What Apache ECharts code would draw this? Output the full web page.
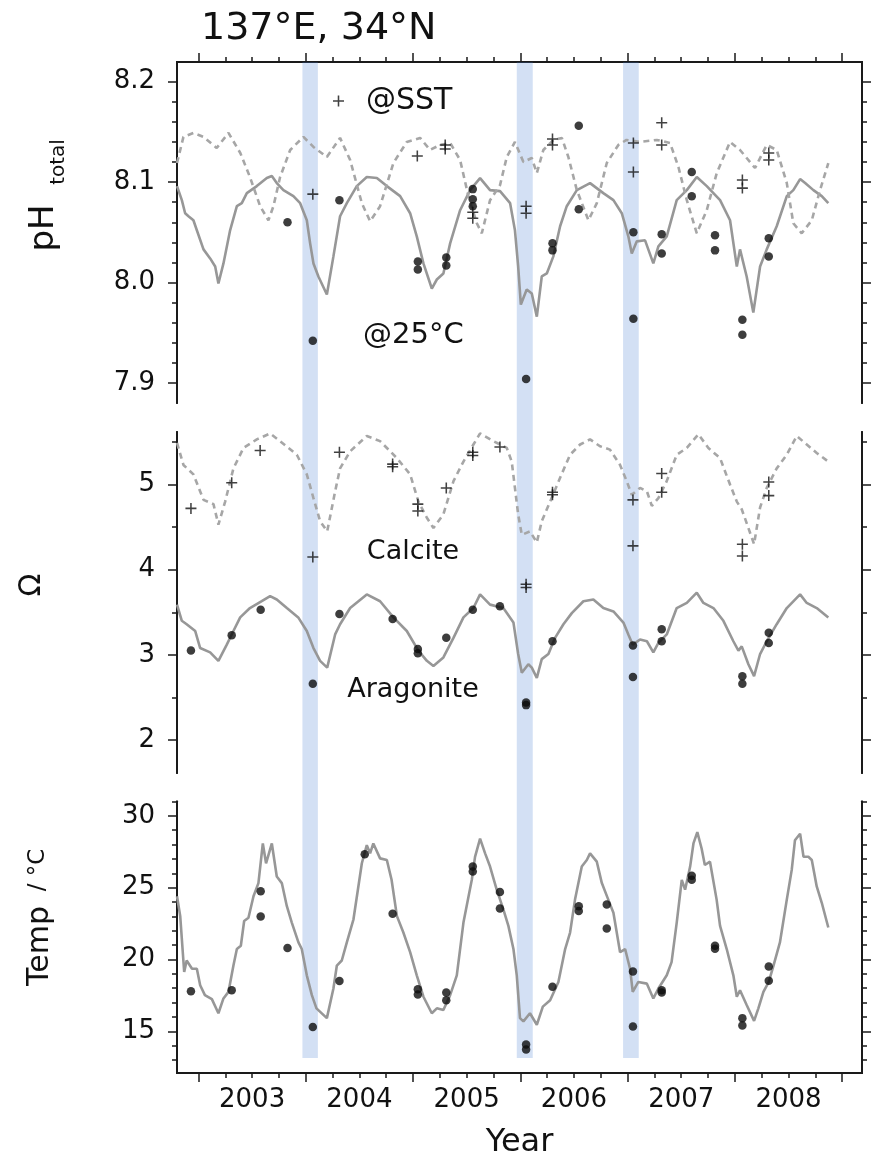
<!DOCTYPE html>
<html><head><meta charset="utf-8">
<script src="https://cdn.jsdelivr.net/npm/echarts@6/dist/echarts.min.js"></script>
<style>html,body{margin:0;padding:0;background:#fff}#c{width:872px;height:1160px}</style>
</head><body><div id="c"></div>
<script>
// ---------- data (years as decimal) ----------
const phSolid = [[2002.80,8.096],[2002.845,8.082],[2002.876,8.069],[2002.907,8.066],[2002.953,8.062],[2002.985,8.052],[2003.047,8.033],[2003.109,8.024],[2003.156,8.016],[2003.186,7.999],[2003.233,8.019],[2003.295,8.052],[2003.358,8.076],[2003.404,8.079],[2003.451,8.089],[2003.544,8.096],[2003.637,8.104],[2003.684,8.106],[2003.73,8.099],[2003.792,8.092],[2003.885,8.086],[2003.948,8.079],[2004.010,8.062],[2004.041,8.039],[2004.072,8.019],[2004.118,8.006],[2004.197,7.988],[2004.258,8.026],[2004.32,8.066],[2004.383,8.079],[2004.476,8.096],[2004.569,8.105],[2004.663,8.104],[2004.756,8.096],[2004.88,8.086],[2004.973,8.069],[2005.035,8.046],[2005.097,8.019],[2005.175,7.994],[2005.222,8.003],[2005.283,8.009],[2005.346,8.039],[2005.439,8.072],[2005.532,8.092],[2005.625,8.104],[2005.718,8.092],[2005.811,8.091],[2005.905,8.079],[2005.95,8.052],[2005.98,8.016],[2006.005,7.978],[2006.06,7.993],[2006.107,7.989],[2006.154,7.966],[2006.2,8.006],[2006.247,8.009],[2006.308,8.026],[2006.371,8.056],[2006.433,8.076],[2006.527,8.092],[2006.65,8.099],[2006.774,8.089],[2006.868,8.082],[2006.946,8.069],[2007.007,8.046],[2007.039,8.029],[2007.086,8.041],[2007.163,8.042],[2007.24,8.019],[2007.287,8.036],[2007.365,8.046],[2007.458,8.082],[2007.552,8.092],[2007.645,8.105],[2007.738,8.096],[2007.862,8.082],[2007.955,8.062],[2008.018,8.016],[2008.048,8.033],[2008.11,8.006],[2008.172,7.970],[2008.235,8.016],[2008.297,8.033],[2008.39,8.056],[2008.484,8.086],[2008.545,8.092],[2008.608,8.103],[2008.655,8.099],[2008.732,8.092],[2008.81,8.086],[2008.871,8.079]];
const phDashed = [[2002.80,8.119],[2002.86,8.145],[2002.953,8.149],[2003.047,8.145],[2003.17,8.134],[2003.28,8.149],[2003.39,8.129],[2003.48,8.105],[2003.575,8.076],[2003.652,8.062],[2003.699,8.076],[2003.761,8.105],[2003.855,8.132],[2003.979,8.145],[2004.072,8.135],[2004.197,8.125],[2004.32,8.144],[2004.414,8.122],[2004.523,8.079],[2004.6,8.061],[2004.693,8.076],[2004.817,8.119],[2004.942,8.140],[2005.066,8.144],[2005.159,8.132],[2005.252,8.137],[2005.346,8.139],[2005.439,8.122],[2005.516,8.086],[2005.595,8.059],[2005.641,8.049],[2005.718,8.082],[2005.811,8.097],[2005.874,8.125],[2005.95,8.140],[2006.029,8.120],[2006.107,8.124],[2006.154,8.109],[2006.215,8.132],[2006.308,8.142],[2006.387,8.144],[2006.448,8.125],[2006.527,8.092],[2006.635,8.062],[2006.713,8.079],[2006.806,8.119],[2006.914,8.137],[2006.99,8.142],[2007.116,8.140],[2007.272,8.142],[2007.396,8.139],[2007.474,8.115],[2007.552,8.082],[2007.645,8.049],[2007.738,8.072],[2007.831,8.109],[2007.955,8.140],[2008.048,8.132],[2008.188,8.114],[2008.297,8.137],[2008.39,8.132],[2008.484,8.099],[2008.545,8.059],[2008.623,8.049],[2008.717,8.062],[2008.794,8.092],[2008.871,8.119]];
const phPlus = [[2004.066,8.088],[2005.04,8.126],[2005.30,8.137],[2005.30,8.133],[2005.557,8.070],[2005.557,8.064],[2006.054,8.076],[2006.054,8.069],[2006.30,8.143],[2006.30,8.137],[2007.054,8.139],[2007.054,8.110],[2007.318,8.159],[2007.318,8.137],[2008.07,8.102],[2008.07,8.094],[2008.316,8.129],[2008.316,8.122]];
const phDots = [[2003.83,8.060],[2004.066,7.942],[2004.314,8.082],[2005.045,8.021],[2005.045,8.013],[2005.31,8.025],[2005.31,8.017],[2005.557,8.093],[2005.557,8.083],[2005.557,8.076],[2006.054,7.904],[2006.30,8.039],[2006.30,8.032],[2006.545,8.156],[2006.545,8.073],[2007.054,8.050],[2007.054,7.964],[2007.318,8.048],[2007.318,8.029],[2007.598,8.110],[2007.598,8.086],[2007.815,8.047],[2007.815,8.032],[2008.07,7.963],[2008.07,7.948],[2008.316,8.044],[2008.316,8.026]];

const omSolid = [[2002.80,3.59],[2002.845,3.40],[2002.89,3.36],[2002.97,3.28],[2003.016,3.08],[2003.109,3.03],[2003.186,2.93],[2003.264,3.12],[2003.326,3.28],[2003.389,3.44],[2003.48,3.55],[2003.59,3.63],[2003.668,3.69],[2003.73,3.65],[2003.824,3.55],[2003.93,3.44],[2004.01,3.28],[2004.072,3.08],[2004.134,2.93],[2004.20,2.85],[2004.274,3.24],[2004.32,3.36],[2004.414,3.55],[2004.569,3.71],[2004.693,3.63],[2004.817,3.44],[2004.942,3.28],[2005.05,3.05],[2005.129,2.93],[2005.19,2.87],[2005.283,2.97],[2005.377,3.20],[2005.47,3.44],[2005.563,3.55],[2005.625,3.71],[2005.718,3.59],[2005.842,3.55],[2005.936,3.38],[2005.98,3.01],[2006.014,2.79],[2006.075,2.89],[2006.107,2.85],[2006.154,2.73],[2006.2,2.95],[2006.262,3.01],[2006.324,3.20],[2006.402,3.36],[2006.48,3.49],[2006.588,3.63],[2006.681,3.65],[2006.774,3.55],[2006.868,3.51],[2006.961,3.38],[2007.007,3.24],[2007.048,3.12],[2007.116,3.18],[2007.18,3.16],[2007.24,3.03],[2007.287,3.14],[2007.365,3.24],[2007.458,3.55],[2007.552,3.61],[2007.645,3.73],[2007.707,3.61],[2007.80,3.55],[2007.893,3.40],[2007.986,3.16],[2008.033,3.05],[2008.064,3.10],[2008.126,2.89],[2008.179,2.75],[2008.235,3.01],[2008.297,3.16],[2008.39,3.36],[2008.484,3.55],[2008.608,3.71],[2008.67,3.61],[2008.763,3.55],[2008.871,3.44]];
const omDashed = [[2002.80,5.49],[2002.86,5.23],[2002.953,5.12],[2003.047,4.82],[2003.14,4.77],[2003.186,4.53],[2003.249,4.80],[2003.326,5.19],[2003.42,5.43],[2003.544,5.53],[2003.668,5.60],[2003.761,5.51],[2003.917,5.35],[2004.01,5.12],[2004.072,4.84],[2004.134,4.57],[2004.20,4.45],[2004.274,4.92],[2004.32,5.19],[2004.414,5.39],[2004.569,5.57],[2004.693,5.51],[2004.85,5.31],[2004.973,5.12],[2005.05,4.80],[2005.129,4.61],[2005.19,4.49],[2005.283,4.65],[2005.377,5.04],[2005.47,5.27],[2005.563,5.47],[2005.625,5.60],[2005.749,5.51],[2005.874,5.43],[2005.92,5.27],[2005.95,4.96],[2005.98,4.65],[2006.014,4.41],[2006.09,4.45],[2006.154,4.32],[2006.2,4.57],[2006.278,4.80],[2006.371,5.08],[2006.464,5.35],[2006.557,5.47],[2006.65,5.53],[2006.743,5.45],[2006.836,5.41],[2006.93,5.23],[2006.992,5.04],[2007.039,4.88],[2007.116,4.96],[2007.18,4.92],[2007.226,4.75],[2007.287,4.84],[2007.365,5.04],[2007.458,5.35],[2007.552,5.43],[2007.66,5.59],[2007.753,5.43],[2007.862,5.31],[2007.955,5.00],[2008.018,4.80],[2008.064,4.71],[2008.126,4.49],[2008.179,4.30],[2008.235,4.73],[2008.297,4.96],[2008.39,5.19],[2008.484,5.35],[2008.577,5.57],[2008.67,5.47],[2008.763,5.37],[2008.871,5.27]];
const omPlus = [[2002.93,4.72],[2003.31,5.02],[2003.575,5.40],[2004.066,4.15],[2004.314,5.38],[2004.81,5.24],[2004.81,5.21],[2005.045,4.77],[2005.045,4.69],[2005.31,4.96],[2005.557,5.38],[2005.557,5.34],[2005.81,5.44],[2006.054,3.83],[2006.054,3.79],[2006.30,4.91],[2006.30,4.88],[2007.05,4.82],[2007.05,4.28],[2007.318,5.13],[2007.318,4.91],[2008.07,4.30],[2008.07,4.16],[2008.316,5.03],[2008.316,4.87]];
const omDots = [[2002.93,3.05],[2003.31,3.23],[2003.58,3.53],[2004.066,2.66],[2004.314,3.48],[2004.81,3.42],[2005.045,3.07],[2005.045,3.02],[2005.31,3.20],[2005.557,3.53],[2005.81,3.57],[2006.054,2.44],[2006.054,2.41],[2006.30,3.16],[2007.05,3.11],[2007.05,2.74],[2007.318,3.30],[2007.318,3.16],[2008.07,2.75],[2008.07,2.66],[2008.316,3.26],[2008.316,3.14]];

const tLine = [[2002.80,24.40],[2002.83,23.02],[2002.867,19.13],[2002.89,19.93],[2002.94,19.36],[2002.985,19.36],[2003.016,18.21],[2003.06,17.52],[2003.125,17.24],[2003.186,16.26],[2003.233,17.29],[2003.28,17.75],[2003.326,19.58],[2003.358,20.73],[2003.395,20.96],[2003.426,22.68],[2003.466,22.91],[2003.513,24.40],[2003.559,25.32],[2003.60,28.08],[2003.63,26.70],[2003.684,28.08],[2003.73,25.78],[2003.777,25.32],[2003.824,23.71],[2003.87,22.57],[2003.932,21.19],[2003.963,20.73],[2004.01,18.90],[2004.057,17.52],[2004.10,16.60],[2004.197,15.92],[2004.258,17.98],[2004.29,19.58],[2004.336,19.93],[2004.383,21.19],[2004.445,22.80],[2004.523,26.70],[2004.569,27.96],[2004.60,27.39],[2004.63,28.08],[2004.693,27.04],[2004.756,26.93],[2004.80,25.55],[2004.85,23.02],[2004.91,21.88],[2004.973,20.51],[2005.035,18.90],[2005.097,17.41],[2005.175,16.26],[2005.222,16.60],[2005.283,16.49],[2005.346,17.52],[2005.408,18.90],[2005.47,22.57],[2005.548,25.55],[2005.578,27.15],[2005.625,28.42],[2005.672,27.39],[2005.718,26.47],[2005.78,24.86],[2005.842,23.49],[2005.889,22.34],[2005.936,20.73],[2005.967,18.90],[2005.997,15.92],[2006.029,15.69],[2006.09,16.26],[2006.154,15.46],[2006.21,16.72],[2006.278,17.17],[2006.355,18.44],[2006.418,20.73],[2006.464,21.88],[2006.51,24.17],[2006.573,26.47],[2006.62,26.93],[2006.65,27.39],[2006.713,26.81],[2006.76,25.32],[2006.82,24.17],[2006.868,23.26],[2006.93,20.51],[2006.977,20.73],[2007.023,19.36],[2007.048,17.75],[2007.10,18.44],[2007.18,18.32],[2007.24,17.29],[2007.287,17.98],[2007.365,18.90],[2007.41,19.82],[2007.458,22.57],[2007.505,25.55],[2007.536,24.86],[2007.583,26.47],[2007.614,28.08],[2007.65,28.87],[2007.69,27.73],[2007.72,26.58],[2007.768,26.81],[2007.83,24.17],[2007.862,22.34],[2007.924,20.73],[2007.986,18.90],[2008.018,17.41],[2008.048,17.86],[2008.11,16.83],[2008.179,15.73],[2008.219,16.60],[2008.266,17.75],[2008.316,18.44],[2008.36,19.58],[2008.42,21.19],[2008.484,24.17],[2008.53,26.24],[2008.56,28.30],[2008.608,28.76],[2008.64,27.15],[2008.685,27.15],[2008.717,26.93],[2008.763,25.09],[2008.81,23.95],[2008.871,22.23]];
const tDots = [[2002.93,17.79],[2003.31,17.86],[2003.58,24.75],[2003.58,23.0],[2003.83,20.80],[2004.066,15.30],[2004.314,18.51],[2004.55,27.32],[2004.81,23.19],[2005.045,17.93],[2005.045,17.57],[2005.31,17.70],[2005.31,17.17],[2005.557,26.47],[2005.557,26.12],[2005.81,24.70],[2005.81,23.55],[2006.054,14.08],[2006.054,13.73],[2006.30,18.10],[2006.545,23.71],[2006.545,23.37],[2006.806,23.83],[2006.806,22.16],[2007.05,19.17],[2007.05,15.34],[2007.318,17.86],[2007.318,17.70],[2007.598,25.83],[2007.598,25.55],[2007.815,20.95],[2007.815,20.75],[2008.07,15.92],[2008.07,15.41],[2008.316,19.52],[2008.316,18.53]];

const bands = [[2003.969,2004.113],[2005.967,2006.116],[2006.958,2007.104]];

// ---------- axes ticks ----------
const xMin = 2002.80, xMax = 2009.185;
const yearTicks = [2003,2004,2005,2006,2007,2008,2009];
const quarterTicks = [];
for (let y = 2003; y < 2009; y++) { quarterTicks.push(y+0.25, y+0.5, y+0.75); }
const yearLabelPos = [2003.5,2004.5,2005.5,2006.5,2007.5,2008.5];
const phMajor = [7.9,8.0,8.1,8.2], phMinor = [7.92,7.94,7.96,7.98,8.02,8.04,8.06,8.08,8.12,8.14,8.16,8.18];
const omMajor = [2,3,4,5], omMinor = [2.5,3.5,4.5,5.5];
const tMajor = [15,20,25,30], tMinor = [13,14,16,17,18,19,21,22,23,24,26,27,28,29,31];

const FONT = 'DejaVu Sans';
const AX = '#1a1a1a';
const plusPath = 'path://M0,4.3H10V5.7H0Z M4.3,0H5.7V10H4.3Z';

function xAx(grid, pos, ticks, len, show, labels) {
  return {type:'value', gridIndex:grid, position:pos, min:xMin, max:xMax, show:show,
    splitLine:{show:false},
    axisLine:{show:true, onZero:false, lineStyle:{color:AX, width:2}},
    axisTick:{show:true, inside:false, length:len, customValues:ticks, lineStyle:{color:AX, width:1.5}},
    axisLabel: labels ? {show:true, customValues:labels, formatter:v=>String(Math.floor(v)), fontSize:26, fontFamily:FONT, color:'#111', margin:14} : {show:false}
  };
}
function yAx(grid, pos, min, max, ticks, len, labels, fmt) {
  return {type:'value', gridIndex:grid, position:pos, min:min, max:max,
    splitLine:{show:false},
    axisLine:{show:true, onZero:false, lineStyle:{color:AX, width:2}},
    axisTick:{show:true, inside:false, length:len, customValues:ticks, lineStyle:{color:AX, width:1.5}},
    axisLabel: labels ? {show:true, customValues:labels, formatter:fmt, fontSize:26, fontFamily:FONT, color:'#111', margin:22} : {show:false}
  };
}

const xAxis = [
  xAx(0,'top',yearTicks,9,true,null),
  xAx(0,'top',quarterTicks,5,true,null),
  xAx(1,'bottom',yearTicks,9,false,null),
  Object.assign(xAx(2,'bottom',yearTicks,9,true,yearLabelPos), {name:'Year', nameLocation:'middle', nameGap:54, nameTextStyle:{fontSize:32, fontFamily:FONT, color:'#111'}}),
  xAx(2,'bottom',quarterTicks,5,true,null),
  xAx(3,'bottom',yearTicks,9,false,null)
];
const phMin=7.88, phMax=8.2196, omMin=1.613, omMax=5.617, tMin=12.1, tMax=31;
const yAxis = [
  yAx(0,'left',phMin,phMax,phMajor,9,phMajor,v=>v.toFixed(1)),
  yAx(0,'left',phMin,phMax,phMinor,5,null),
  yAx(0,'right',phMin,phMax,phMajor,9,null),
  yAx(0,'right',phMin,phMax,phMinor,5,null),
  yAx(1,'left',omMin,omMax,omMajor,9,omMajor,v=>String(v)),
  yAx(1,'left',omMin,omMax,omMinor,5,null),
  yAx(1,'right',omMin,omMax,omMajor,9,null),
  yAx(1,'right',omMin,omMax,omMinor,5,null),
  yAx(2,'left',tMin,tMax,tMajor,9,tMajor,v=>String(v)),
  yAx(2,'left',tMin,tMax,tMinor,5,null),
  yAx(2,'right',tMin,tMax,tMajor,9,null),
  yAx(2,'right',tMin,tMax,tMinor,5,null),
  {type:'value', gridIndex:3, min:0, max:1, show:false}
];

function lineS(data, xi, yi, dashed) {
  return {type:'line', data:data, xAxisIndex:xi, yAxisIndex:yi, showSymbol:false, symbol:'none', silent:true, z:2,
    lineStyle: dashed ? {color:'#a6a6a6', width:2.6, type:[6,4.5]} : {color:'#979797', width:2.6}};
}
function dotS(data, xi, yi) {
  return {type:'scatter', data:data, xAxisIndex:xi, yAxisIndex:yi, symbol:'circle', symbolSize:8.5, itemStyle:{color:'#0d0d0d'}, silent:true, z:3};
}
function plusS(data, xi, yi) {
  return {type:'scatter', name:'@SST', data:data, xAxisIndex:xi, yAxisIndex:yi, symbol:plusPath, symbolSize:11, itemStyle:{color:'#111'}, silent:true, z:3};
}

const series = [
  lineS(phSolid,0,0,false), lineS(phDashed,0,0,true), plusS(phPlus,0,0), dotS(phDots,0,0),
  lineS(omSolid,2,4,false), lineS(omDashed,2,4,true), plusS(omPlus,2,4), dotS(omDots,2,4),
  lineS(tLine,3,8,false), dotS(tDots,3,8),
  {type:'line', data:[[xMin,0]], xAxisIndex:5, yAxisIndex:12, symbol:'none', lineStyle:{opacity:0}, silent:true, z:10,
   markArea:{silent:true, itemStyle:{color:'rgba(70,125,210,0.24)'}, data: bands.map(b=>[{xAxis:b[0]},{xAxis:b[1]}])}}
];

function rtext(txt, x, y, size) {
  return {type:'text', x:x, y:y, rotation:Math.PI/2, style:{text:txt, font:size+'px "'+FONT+'"', fill:'#111', textAlign:'center', textVerticalAlign:'middle'}};
}
function htext(txt, x, y, size, align) {
  return {type:'text', x:x, y:y, style:{text:txt, font:size+'px "'+FONT+'"', fill:'#111', textAlign:align||'left', textVerticalAlign:'middle'}};
}

const option = {
  animation:false,
  backgroundColor:'#fff',
  grid:[
    {left:177, right:10, top:62, height:341},
    {left:177, right:10, top:432, height:341},
    {left:177, right:10, top:801.5, height:274.5},
    {left:177, right:10, top:62, height:996}
  ],
  xAxis:xAxis, yAxis:yAxis, series:series,
  legend:{data:['@SST'], left:333, top:86, padding:0, itemWidth:11, itemHeight:11, selectedMode:false,
    textStyle:{fontSize:30, fontFamily:FONT, color:'#111', padding:[0,0,0,17], lineHeight:30}},
  graphic:[
    htext('137°E, 34°N', 201, 29, 38),
    htext('@25°C', 363, 335, 29),
    htext('Calcite', 413, 552, 27, 'center'),
    htext('Aragonite', 413, 690, 27, 'center'),
    rtext('pH', 44, 228, 34),
    rtext('total', 59, 162, 20),
    rtext('Ω', 32, 585, 30),
    rtext('Temp', 40, 946, 30),
    rtext('/ °C', 38, 870, 23)
  ]
};
const chart = echarts.init(document.getElementById('c'), null, {renderer:'canvas'});
chart.setOption(option);
</script>
</body></html>
